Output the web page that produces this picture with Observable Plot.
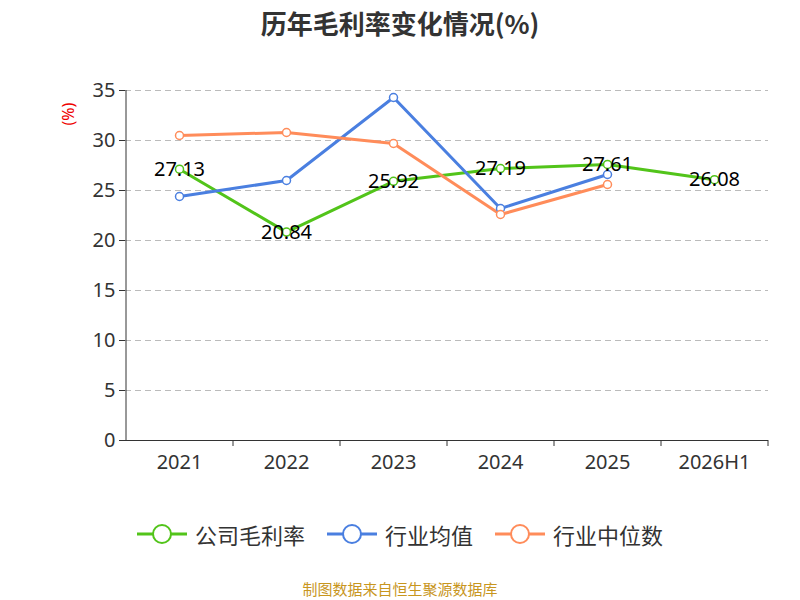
<!DOCTYPE html>
<html><head><meta charset="utf-8">
<script src="https://cdn.jsdelivr.net/npm/d3@7"></script>
<script src="https://cdn.jsdelivr.net/npm/@observablehq/plot@0.6"></script>
<style>
body{margin:0;width:800px;height:600px;position:relative;font-family:"Noto Sans CJK SC","Noto Sans",sans-serif;background:#fff}
#title{position:absolute;top:4px;left:0;width:800px;text-align:center;font-size:26px;font-weight:bold;color:#333}
#chart{position:absolute;top:0;left:0}
#legend{position:absolute;top:518px;left:0;width:800px;display:flex;justify-content:center;gap:22px;font-size:22px;color:#333}
#legend span{display:flex;align-items:center;gap:8px}
#cap{position:absolute;top:578px;width:800px;text-align:center;font-size:15px;color:#c8961e}
</style></head><body>
<div id="chart"></div>
<div id="title">历年毛利率变化情况(%)</div>
<div id="legend"></div>
<div id="cap">制图数据来自恒生聚源数据库</div>
<script>
const years=["2021","2022","2023","2024","2025","2026H1"];
const company=[27.13,20.84,25.92,27.19,27.61,26.08];
const industryAvg=[24.4,26.0,34.3,23.2,26.6];
const industryMedian=[30.5,30.8,29.7,22.6,25.6];
const names=["公司毛利率","行业均值","行业中位数"];
const colors=["#52c41a","#4a7fe0","#ff8c5a"];
const yTicks=[0,5,10,15,20,25,30,35];
const rows=[];
[company,industryAvg,industryMedian].forEach((s,i)=>s.forEach((v,j)=>rows.push({year:years[j],v,s:names[i]})));
const comp=company.map((v,j)=>({year:years[j],v}));
const plot=Plot.plot({
 width:800,height:500,marginLeft:125,marginRight:32,marginTop:90,marginBottom:60,
 style:{fontSize:"20px",fontFamily:"Noto Sans, sans-serif",color:"#333"},
 x:{type:"point",domain:years,padding:0.5,label:null},
 y:{type:"linear",domain:[0,35],ticks:yTicks,label:null},
 color:{domain:names,range:colors},
 marks:[
  Plot.gridY(yTicks.filter(t=>t>0),{stroke:"#bbb",strokeDasharray:"6,4",strokeOpacity:1}),
  Plot.axisY({ticks:yTicks,tickSize:6,tickPadding:4,fontSize:20}),
  Plot.axisX({tickSize:0,tickPadding:14,fontSize:20}),
  Plot.ruleY([0],{stroke:"#333"}),
  Plot.ruleX([years[0]],{x:d=>d,dx:-53.5,y1:0,y2:35,stroke:"#333"}),
  Plot.ruleX(years,{x:d=>d,dx:53.5,y1:0,y2:-0.6,stroke:"#333"}),
  Plot.line(rows,{x:"year",y:"v",z:"s",stroke:"s",strokeWidth:3}),
  Plot.dot(rows,{x:"year",y:"v",stroke:"s",fill:"white",r:4,strokeWidth:1.5}),
  Plot.text(comp,{x:"year",y:"v",text:d=>d.v.toFixed(2),fontSize:20,fill:"#000"}),
  Plot.text(["(%)"],{frameAnchor:"top-left",dx:-63,dy:35,rotate:-90,fill:"#e00",fontSize:16})
 ]
});
document.getElementById("chart").appendChild(plot);
const lg=document.getElementById("legend");
names.forEach((n,i)=>{lg.innerHTML+=`<span><svg width="50" height="24"><line x1="0" x2="50" y1="12" y2="12" stroke="${colors[i]}" stroke-width="3"/><circle cx="25" cy="12" r="9" fill="white" stroke="${colors[i]}" stroke-width="2"/></svg>${n}</span>`});
</script></body></html>
